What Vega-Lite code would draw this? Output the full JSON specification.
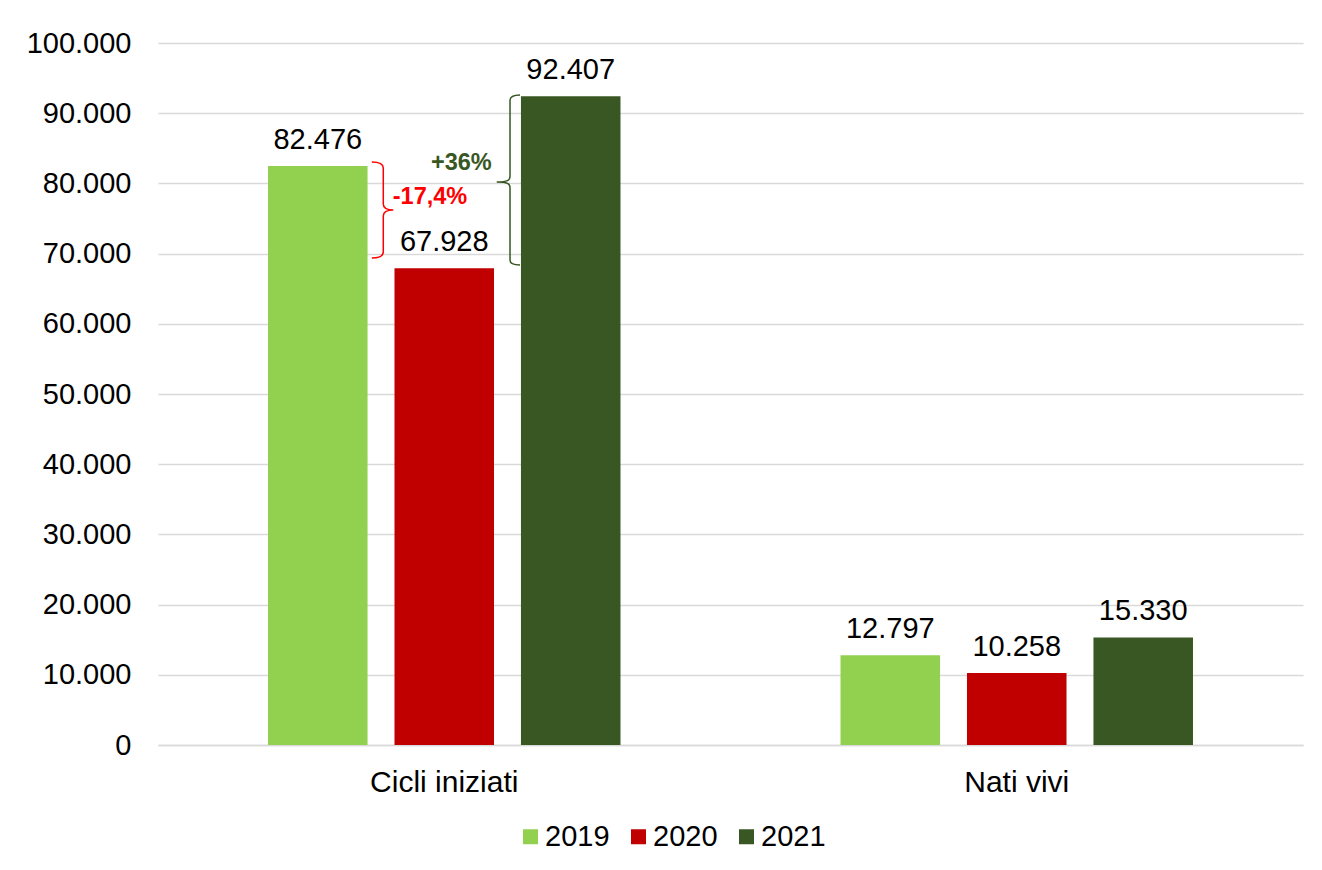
{
  "$schema": "https://vega.github.io/schema/vega-lite/v6.json",
  "width": 1145,
  "height": 702,
  "autosize": {"type": "none"},
  "padding": {"left": 158, "top": 43, "right": 19, "bottom": 125},
  "background": "white",
  "config": {
    "locale": {"number": {"decimal": ",", "thousands": ".", "grouping": [3], "currency": ["€", ""]}},
    "view": {"stroke": null},
    "font": "Liberation Sans"
  },
  "datasets": {
    "bars": [
      {"categoria": "Cicli iniziati", "anno": "2019", "valore": 82476},
      {"categoria": "Cicli iniziati", "anno": "2020", "valore": 67928},
      {"categoria": "Cicli iniziati", "anno": "2021", "valore": 92407},
      {"categoria": "Nati vivi", "anno": "2019", "valore": 12797},
      {"categoria": "Nati vivi", "anno": "2020", "valore": 10258},
      {"categoria": "Nati vivi", "anno": "2021", "valore": 15330}
    ],
    "braces": [
      {"categoria": "Cicli iniziati", "anno": "2019", "valore": 82476, "etichetta": "-17,4%"},
      {"categoria": "Cicli iniziati", "anno": "2021", "valore": 92407, "etichetta": "+36%"}
    ]
  },
  "encoding": {
    "x": {
      "field": "categoria", "type": "nominal", "sort": ["Cicli iniziati", "Nati vivi"],
      "scale": {"paddingInner": 0, "paddingOuter": 0},
      "axis": {"title": null, "labelAngle": 0, "labelFontSize": 30, "labelColor": "#000000", "labelPadding": 22, "labelBaseline": "top", "ticks": false, "domainColor": "#d9d9d9", "domainWidth": 1.5}
    },
    "xOffset": {"field": "anno", "type": "nominal", "scale": {"paddingInner": 0.213, "paddingOuter": 0.87}},
    "y": {
      "field": "valore", "type": "quantitative",
      "scale": {"domain": [0, 100000], "nice": false},
      "axis": {"title": null, "tickCount": 10, "format": ",d", "labelFontSize": 29, "labelColor": "#000000", "labelPadding": 27, "ticks": false, "domain": false, "gridColor": "#d9d9d9", "gridWidth": 1.5}
    }
  },
  "layer": [
    {
      "data": {"name": "bars"},
      "mark": {"type": "bar"},
      "encoding": {
        "color": {
          "field": "anno", "type": "nominal",
          "scale": {"domain": ["2019", "2020", "2021"], "range": ["#92d050", "#c00000", "#385723"]},
          "legend": {"title": null, "orient": "none", "legendX": 358, "legendY": 779, "direction": "horizontal", "symbolType": "square", "symbolSize": 225, "symbolStrokeWidth": 0, "labelFontSize": 29, "labelColor": "#000000", "labelOffset": 0, "columnPadding": 14, "padding": 0}
        }
      }
    },
    {
      "data": {"name": "bars"},
      "mark": {"type": "text", "baseline": "alphabetic", "dy": -17, "fontSize": 29, "color": "#000000"},
      "encoding": {"text": {"field": "valore", "type": "quantitative", "format": ",d"}}
    },
    {
      "data": {"name": "braces"},
      "transform": [{"filter": "datum.etichetta == '-17,4%'"}],
      "mark": {"type": "point", "shape": "M54,-4 C60,-4 65.5,-3 65.5,2 L65.5,38 C65.5,42 68,44 75.5,44 C68,44 65.5,46 65.5,50 L65.5,86 C65.5,91 60,92 54,92", "size": 4, "filled": false, "opacity": 1, "stroke": "#ff0000", "strokeWidth": 1.5}
    },
    {
      "data": {"name": "braces"},
      "transform": [{"filter": "datum.etichetta == '+36%'"}],
      "mark": {"type": "point", "shape": "M-50.7,-1.3 C-56,-1.3 -60.7,-0.5 -60.7,4 L-60.7,80 C-60.7,84 -63,85.7 -74,85.7 C-63,85.7 -60.7,87.5 -60.7,91.5 L-60.7,164 C-60.7,168 -56,168.7 -50.7,168.7", "size": 4, "filled": false, "opacity": 1, "stroke": "#385723", "strokeWidth": 1.5}
    },
    {
      "data": {"name": "braces"},
      "transform": [{"filter": "datum.etichetta == '-17,4%'"}],
      "mark": {"type": "text", "align": "left", "baseline": "alphabetic", "dx": 75, "dy": 38, "fontSize": 23.5, "fontWeight": "bold", "color": "#ff0000"},
      "encoding": {"text": {"field": "etichetta", "type": "nominal"}}
    },
    {
      "data": {"name": "braces"},
      "transform": [{"filter": "datum.etichetta == '+36%'"}],
      "mark": {"type": "text", "align": "right", "baseline": "alphabetic", "dx": -79, "dy": 74, "fontSize": 23.5, "fontWeight": "bold", "color": "#385723"},
      "encoding": {"text": {"field": "etichetta", "type": "nominal"}}
    }
  ]
}
